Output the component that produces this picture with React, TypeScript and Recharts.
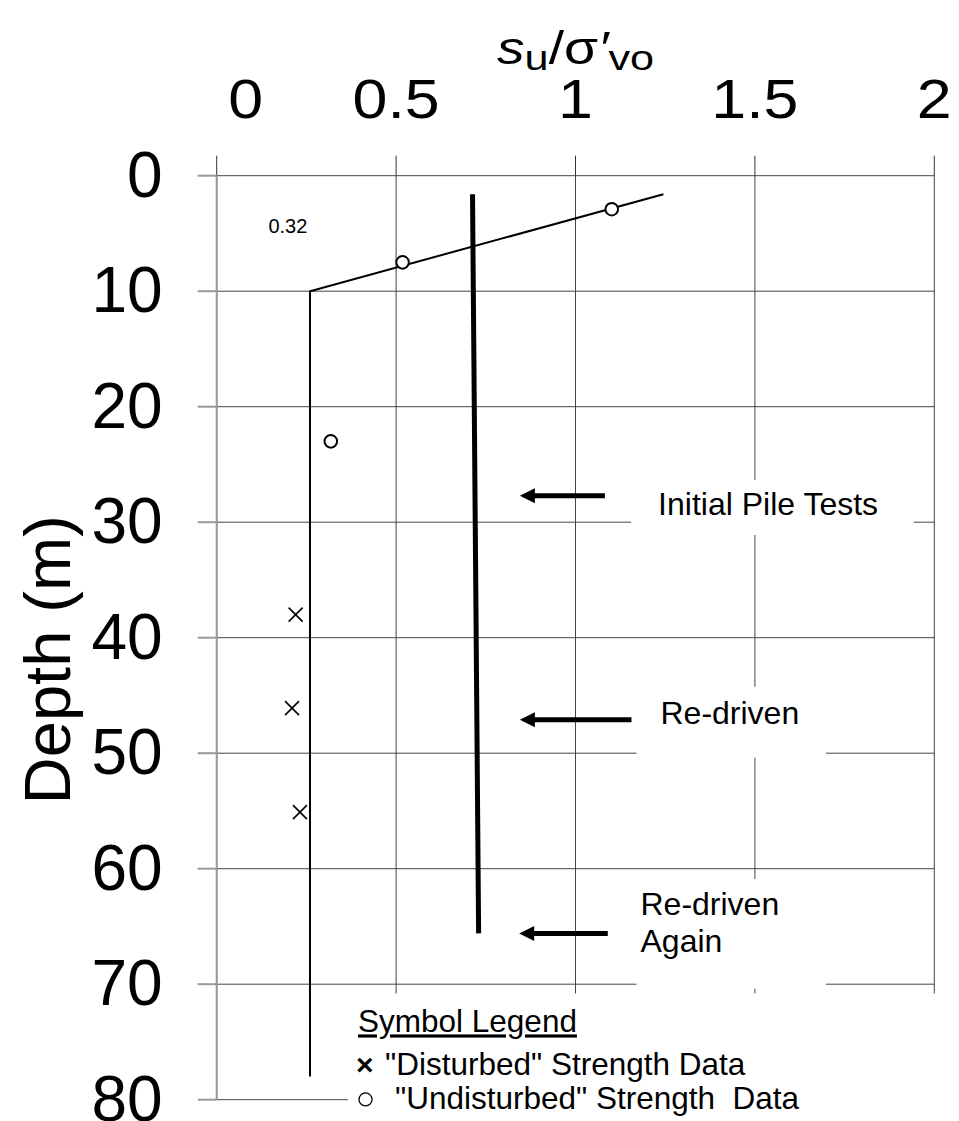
import React from "react";
import {
  ComposedChart,
  XAxis,
  YAxis,
  CartesianGrid,
  Scatter,
  ReferenceLine,
  ReferenceArea,
  ReferenceDot,
  Label,
} from "recharts";

const FONT = "'Liberation Sans', Arial, Helvetica, sans-serif";

// axes
const ratioTicks = [0, 0.5, 1, 1.5, 2];
const depthTicks = [0, 10, 20, 30, 40, 50, 60, 70, 80];

// design su/σ'vo profile (thin line)
const profileRatio = [0.26, 0.26, 1.245];
const profileDepth = [78, 10, 1.6];

// pile (thick line)
const pileRatio = [0.713, 0.73];
const pileDepth = [1.6, 65.6];

// "undisturbed" strength data (circles)
const undisturbedRatio = [1.101, 0.518, 0.318];
const undisturbedDepth = [2.9, 7.5, 23.0];

// "disturbed" strength data (crosses)
const disturbedRatio = [0.22, 0.21, 0.232];
const disturbedDepth = [38.0, 46.1, 55.1];

// pile test events (arrows)
const eventNames = [["Initial Pile Tests"], ["Re-driven"], ["Re-driven", "Again"]];
const eventDepth = [27.7, 47.1, 65.6];
const arrowTip = [0.845, 0.845, 0.843];
const arrowTail = [1.082, 1.156, 1.09];

const slopeNote = "0.32";
const legendTitle = "Symbol Legend";
const legendItems = ['"Disturbed" Strength Data', '"Undisturbed" Strength  Data'];

const toPoints = (xs: number[], ds: number[]) => xs.map((x, i) => ({ x, d: ds[i] }));

const profile = toPoints(profileRatio, profileDepth);
const pile = toPoints(pileRatio, pileDepth);
const undisturbed = toPoints(undisturbedRatio, undisturbedDepth);
const disturbed = toPoints(disturbedRatio, disturbedDepth);

const XTick = (p: any) => {
  const { x, y, payload } = p;
  // the "0" label sits a little right of its gridline in the original
  const shift = payload.value === 0 ? 29 : 0;
  return (
    <text
      transform={`translate(${x + shift},${y}) scale(1.12,1)`}
      textAnchor="middle"
      fontFamily={FONT}
      fontSize={56}
      fill="#000"
    >
      {payload.value}
    </text>
  );
};

const YTick = (p: any) => {
  const { x, y, payload } = p;
  return (
    <text x={x} y={y} dy={21} textAnchor="end" fontFamily={FONT} fontSize={64} fill="#000">
      {payload.value}
    </text>
  );
};

const Arrow = (p: any) => {
  const { x1, y1, x2, y2 } = p;
  const head = 15;
  const half = 7.5;
  return (
    <g>
      <line x1={x1} y1={y1} x2={x2 + head - 1} y2={y2} stroke="#000" strokeWidth={5} />
      <polygon points={`${x2},${y2} ${x2 + head},${y2 - half} ${x2 + head},${y2 + half}`} fill="#000" />
    </g>
  );
};

const Circle = (p: any) => (
  <circle cx={p.cx} cy={p.cy} r={6.3} fill="#fff" stroke="#000" strokeWidth={2} />
);

const Cross = (p: any) => {
  const { cx, cy } = p;
  const s = 7;
  return (
    <path
      d={`M${cx - s},${cy - s}L${cx + s},${cy + s}M${cx + s},${cy - s}L${cx - s},${cy + s}`}
      stroke="#000"
      strokeWidth={1.6}
      fill="none"
    />
  );
};

const Title = (p: any) => {
  const vb = p.viewBox || {};
  const cx = vb.x + vb.width / 2;
  return (
    <text
      transform={`translate(${cx},64) scale(1.2,1)`}
      textAnchor="middle"
      fontFamily={FONT}
      fontSize={46}
      fill="#000"
    >
      <tspan fontStyle="italic">s</tspan>
      <tspan fontSize={36} dy={6}>u</tspan>
      <tspan dy={-6}>/σ</tspan>
      <tspan fontStyle="italic">′</tspan>
      <tspan fontSize={36} dy={6}>vo</tspan>
    </text>
  );
};

const DepthLabel = (p: any) => {
  const vb = p.viewBox || {};
  const x = vb.x - 47;
  const y = vb.y + vb.height / 2 + 22;
  return (
    <text
      x={x}
      y={y}
      transform={`rotate(-90,${x},${y})`}
      textAnchor="middle"
      fontFamily={FONT}
      fontSize={65}
      fill="#000"
    >
      Depth (m)
    </text>
  );
};

// text placement inside each white label box
const eventTextOffset = [
  { dx: 27, dy: 35 },
  { dx: 24, dy: 37 },
  { dx: 4, dy: 36 },
];
const eventBoxes = [
  { x1: 1.155, x2: 1.943, y1: 26.35, y2: 31.1 },
  { x1: 1.17, x2: 1.698, y1: 44.25, y2: 50.4 },
  { x1: 1.17, x2: 1.698, y1: 60.9, y2: 70.4 },
];

const eventLabel = (i: number) => (p: any) => {
  const vb = p.viewBox || {};
  const o = eventTextOffset[i];
  return (
    <text fontFamily={FONT} fontSize={32} fill="#000">
      {eventNames[i].map((line, k) => (
        <tspan key={k} x={vb.x + o.dx} y={vb.y + o.dy + k * 37}>
          {line}
        </tspan>
      ))}
    </text>
  );
};

const LegendContent = (p: any) => {
  const vb = p.viewBox || {};
  const x = vb.x;
  const y = vb.y;
  return (
    <g fontFamily={FONT} fontSize={31.5} fill="#000">
      <text x={x + 10} y={y + 39} textDecoration="underline">
        {legendTitle}
      </text>
      <text x={x + 8} y={y + 82} fontWeight="bold" fontSize={30}>
        ×
      </text>
      <text x={x + 37} y={y + 82} style={{ whiteSpace: "pre" }}>
        {legendItems[0]}
      </text>
      <circle cx={x + 17.5} cy={y + 106} r={6.5} fill="none" stroke="#000" strokeWidth={1.3} />
      <text x={x + 47} y={y + 116} style={{ whiteSpace: "pre" }}>
        {legendItems[1]}
      </text>
    </g>
  );
};

const SlopeNote = (p: any) => {
  const vb = p.viewBox || {};
  return (
    <text x={vb.x} y={vb.y + vb.height / 2} fontFamily={FONT} fontSize={20} fill="#000">
      {slopeNote}
    </text>
  );
};

export default function App() {
  return (
    <div style={{ position: "absolute", left: 0, top: 0, width: 959, height: 1121, background: "#fff" }}>
      <ComposedChart
        width={959}
        height={1121}
        margin={{ top: 115.7, right: 24.7, bottom: 21.3, left: 116.7 }}
      >
        <CartesianGrid stroke="#444" strokeWidth={1} />
        <XAxis
          type="number"
          dataKey="x"
          orientation="top"
          domain={[0, 2]}
          ticks={ratioTicks}
          interval={0}
          height={60}
          axisLine={false}
          tickLine={{ stroke: "#333", strokeWidth: 1 }}
          tickSize={20}
          tickMargin={38}
          tick={XTick}
          allowDataOverflow
        >
          <Label content={Title} />
        </XAxis>
        <YAxis
          type="number"
          dataKey="d"
          reversed
          domain={[0, 80]}
          ticks={depthTicks}
          interval={0}
          width={100}
          axisLine={{ stroke: "#999", strokeWidth: 2 }}
          tickLine={{ stroke: "#999", strokeWidth: 2 }}
          tickSize={19}
          tickMargin={35}
          tick={YTick}
          allowDataOverflow
        >
          <Label content={DepthLabel} />
        </YAxis>

        {eventBoxes.map((b, i) => (
          <ReferenceArea
            key={`box-${i}`}
            x1={b.x1}
            x2={b.x2}
            y1={b.y1}
            y2={b.y2}
            fill="#fff"
            fillOpacity={1}
            stroke="none"
            ifOverflow="visible"
            label={eventLabel(i)}
          />
        ))}
        <ReferenceArea
          x1={0.366}
          x2={2.06}
          y1={70.8}
          y2={81.8}
          fill="#fff"
          fillOpacity={1}
          stroke="none"
          ifOverflow="visible"
          label={LegendContent}
        />

        <ReferenceDot x={0.147} y={5} r={1} fill="none" stroke="none" label={SlopeNote} />

        {eventDepth.map((d, i) => (
          <ReferenceLine
            key={`arrow-${i}`}
            segment={[
              { x: arrowTail[i], y: d },
              { x: arrowTip[i], y: d },
            ]}
            shape={Arrow}
          />
        ))}

        <Scatter
          data={profile}
          line={{ stroke: "#000", strokeWidth: 2 }}
          shape={() => <g />}
          isAnimationActive={false}
        />
        <Scatter
          data={pile}
          line={{ stroke: "#000", strokeWidth: 5 }}
          shape={() => <g />}
          isAnimationActive={false}
        />
        <Scatter data={undisturbed} shape={Circle} isAnimationActive={false} />
        <Scatter data={disturbed} shape={Cross} isAnimationActive={false} />
      </ComposedChart>
    </div>
  );
}
